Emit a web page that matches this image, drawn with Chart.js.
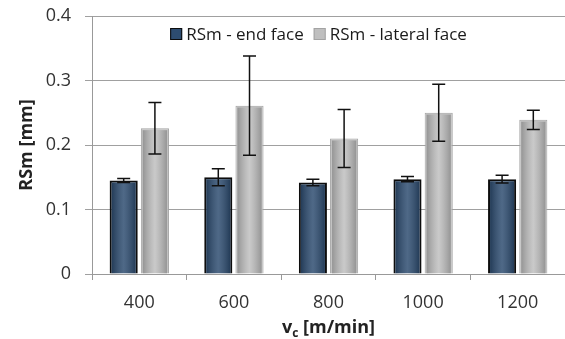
<!DOCTYPE html>
<html>
<head>
<meta charset="utf-8">
<script src="https://cdn.jsdelivr.net/npm/chart.js@4.4.0/dist/chart.umd.min.js"></script>
<style>
html, body { margin: 0; padding: 0; background: #fff; }
</style>
</head>
<body>
<canvas id="myChart" width="565" height="339"></canvas>
<script>
var speeds = ['400', '600', '800', '1000', '1200'];
var endFace = [0.145, 0.150, 0.142, 0.147, 0.147];
var endFaceErr = [0.003, 0.013, 0.005, 0.004, 0.006];
var lateralFace = [0.226, 0.261, 0.210, 0.250, 0.239];
var lateralFaceErr = [0.040, 0.077, 0.045, 0.044, 0.015];
var yMin = 0, yMax = 0.4, yStep = 0.1;

/* shade each bar so it looks a bit rounded, like the excel bars */
const barShade = {
  id: 'barShade',
  afterDatasetDraw(chart, args) {
    const ctx = chart.ctx;
    args.meta.data.forEach(function (bar) {
      const p = bar.getProps(['x', 'y', 'base', 'width'], true);
      const l = p.x - p.width / 2 + 2, r = p.x + p.width / 2 - 2;
      const g = ctx.createLinearGradient(l, 0, r, 0);
      g.addColorStop(0, 'rgba(0,0,0,0.22)');
      g.addColorStop(0.5, 'rgba(255,255,255,0.16)');
      g.addColorStop(1, 'rgba(0,0,0,0.22)');
      ctx.save();
      ctx.fillStyle = g;
      ctx.fillRect(l, p.y + 2, r - l, p.base - p.y - 2);
      ctx.restore();
    });
  }
};

/* error bars, values come from dataset.errors */
const errorBars = {
  id: 'errorBars',
  afterDatasetsDraw(chart) {
    const ctx = chart.ctx, y = chart.scales.y;
    chart.data.datasets.forEach(function (ds, i) {
      const meta = chart.getDatasetMeta(i);
      meta.data.forEach(function (bar, j) {
        const v = ds.data[j], e = ds.errors[j];
        const top = y.getPixelForValue(v + e), bot = y.getPixelForValue(v - e);
        const x = bar.x;
        ctx.save();
        ctx.strokeStyle = '#111';
        ctx.lineWidth = 1.5;
        ctx.beginPath();
        ctx.moveTo(x, top); ctx.lineTo(x, bot);
        ctx.moveTo(x - 6.5, top); ctx.lineTo(x + 6.5, top);
        ctx.moveTo(x - 6.5, bot); ctx.lineTo(x + 6.5, bot);
        ctx.stroke();
        ctx.restore();
      });
    });
  }
};

/* legend inside the plot, at the top, like excel puts it */
const innerLegend = {
  id: 'innerLegend',
  afterDraw(chart) {
    const ctx = chart.ctx, area = chart.chartArea;
    const sets = chart.data.datasets;
    const box = 12, gap = 4, space = 10;
    ctx.save();
    ctx.font = '17px "Open Sans"';
    ctx.textBaseline = 'middle';
    ctx.textAlign = 'left';
    let total = 0;
    sets.forEach(function (ds, i) {
      total += box + gap + ctx.measureText(ds.label).width;
      if (i > 0) total += space;
    });
    let x = (area.left + area.right) / 2 - total / 2 - 10;
    const y = area.top + 18;
    sets.forEach(function (ds) {
      ctx.fillStyle = ds.backgroundColor;
      ctx.fillRect(x, y - box / 2, box, box);
      ctx.strokeStyle = ds.borderColor;
      ctx.lineWidth = 1;
      ctx.strokeRect(x + 0.5, y - box / 2 + 0.5, box - 1, box - 1);
      x += box + gap;
      ctx.fillStyle = '#1a1a1a';
      ctx.fillText(ds.label, x, y + 1);
      x += ctx.measureText(ds.label).width + space;
    });
    ctx.restore();
  }
};

/* x title with subscript c */
const xTitle = {
  id: 'xTitle',
  afterDraw(chart) {
    const ctx = chart.ctx, area = chart.chartArea;
    const big = 'bold 18px "Open Sans"', small = 'bold 12px "Open Sans"';
    ctx.save();
    ctx.fillStyle = '#222';
    ctx.textBaseline = 'alphabetic';
    ctx.textAlign = 'left';
    ctx.font = big;
    const w1 = ctx.measureText('v').width;
    const w3 = ctx.measureText(' [m/min]').width;
    ctx.font = small;
    const w2 = ctx.measureText('c').width;
    let x = (area.left + area.right) / 2 - (w1 + w2 + w3) / 2;
    const y = 333;
    ctx.font = big;
    ctx.fillText('v', x, y);
    x += w1;
    ctx.font = small;
    ctx.fillText('c', x, y + 4);
    x += w2;
    ctx.font = big;
    ctx.fillText(' [m/min]', x, y);
    ctx.restore();
  }
};

const data = {
  labels: speeds,
  datasets: [
    {
      label: 'RSm - end face',
      data: endFace,
      errors: endFaceErr,
      backgroundColor: '#2d4c70',
      borderColor: '#0d0d0d',
      borderWidth: 2,
      barPercentage: 0.9,
      categoryPercentage: 0.66
    },
    {
      label: 'RSm - lateral face',
      data: lateralFace,
      errors: lateralFaceErr,
      backgroundColor: '#bfbfbf',
      borderColor: '#a3a3a3',
      borderWidth: 1,
      barPercentage: 0.9,
      categoryPercentage: 0.66
    }
  ]
};

const config = {
  type: 'bar',
  data: data,
  options: {
    responsive: false,
    animation: false,
    layout: {
      padding: { top: 16, right: 0, bottom: 0, left: 0 }
    },
    scales: {
      x: {
        afterFit: function (scale) { scale.height = 65; },
        grid: {
          offset: true,
          drawOnChartArea: false,
          drawTicks: true,
          tickLength: 6,
          color: '#999'
        },
        border: { color: '#999' },
        ticks: {
          padding: 12,
          color: '#333',
          font: { size: 18, family: 'Open Sans' }
        }
      },
      y: {
        min: yMin,
        max: yMax,
        afterFit: function (scale) {
          scale.width = 92;
          scale.paddingTop = 0;
          scale.paddingBottom = 0;
        },
        grid: {
          color: '#a0a0a0',
          tickLength: 7
        },
        border: { color: '#999' },
        ticks: {
          stepSize: yStep,
          padding: 14,
          color: '#333',
          font: { size: 18, family: 'Open Sans' }
        },
        title: {
          display: true,
          text: 'RSm [mm]',
          color: '#222',
          padding: { top: 16, bottom: 0 },
          font: { size: 18, family: 'Open Sans', weight: 'bold' }
        }
      }
    },
    plugins: {
      legend: { display: false },
      tooltip: { enabled: false }
    }
  },
  plugins: [barShade, errorBars, innerLegend, xTitle]
};

var myChart = new Chart(document.getElementById('myChart'), config);
</script>
</body>
</html>
